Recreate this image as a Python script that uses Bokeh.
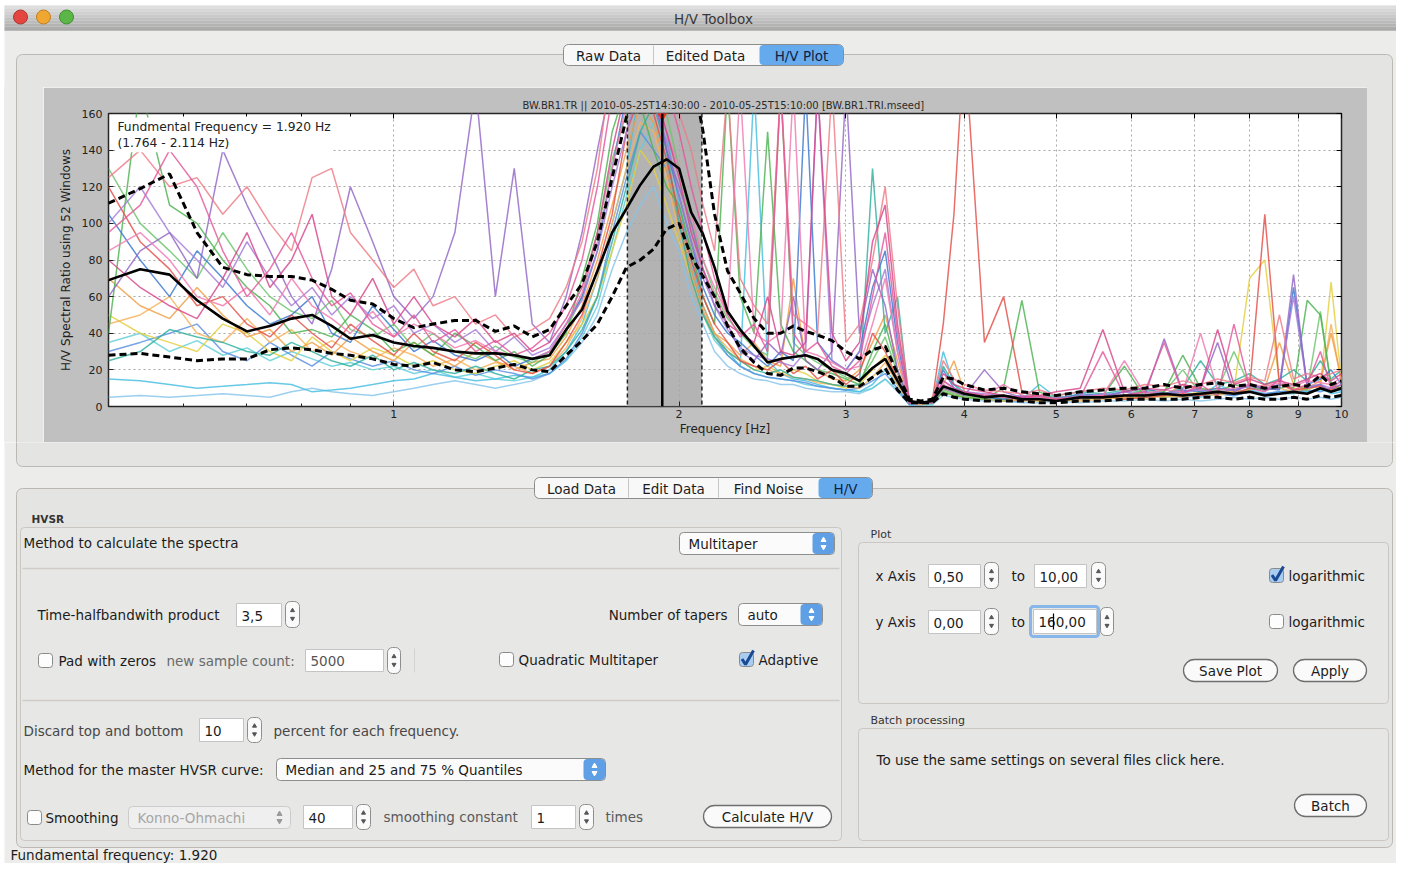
from bokeh.plotting import figure
from bokeh.layouts import column, row
from bokeh.models import Range1d, BoxAnnotation, FixedTicker, LinearAxis, LogAxis, Label, Span, Div
from bokeh.core.properties import value
from bokeh.embed import file_html
from bokeh.resources import INLINE

# ---------------- data ----------------
FREQ = [0.50, 0.54, 0.58, 0.62, 0.66, 0.70, 0.74, 0.78, 0.82, 0.86,
        0.90, 0.95, 1.00, 1.05, 1.10, 1.16, 1.22, 1.28, 1.34, 1.40,
        1.46, 1.52, 1.58, 1.64, 1.70, 1.76, 1.82, 1.88, 1.94, 2.00,
        2.06, 2.12, 2.18, 2.25, 2.32, 2.40, 2.48, 2.56, 2.64, 2.72,
        2.80, 2.90, 3.00, 3.10, 3.20, 3.30, 3.40, 3.50, 3.60, 3.70,
        3.80, 3.90, 4.00, 4.20, 4.40, 4.60, 4.80, 5.00, 5.30, 5.60,
        5.90, 6.20, 6.50, 6.80, 7.10, 7.40, 7.70, 8.00, 8.30, 8.60,
        8.90, 9.20, 9.50, 9.75, 10.0]

MEDIAN = [69, 75, 72, 58, 48, 41, 44, 48, 50, 44,
          37, 39, 35, 33, 32, 30, 29, 29, 28, 26,
          28, 42, 53, 74, 95, 108, 121, 131, 135, 130,
          106, 94, 76, 52, 42, 33, 24, 26, 27, 28,
          26, 20, 18, 14, 21, 26, 14, 3, 2, 3,
          11, 9, 7, 5, 6, 4, 4, 3, 5, 5,
          6, 6, 7, 6, 7, 8, 7, 8, 6, 7,
          8, 7, 10, 8, 10]

Q75 = [111, 119, 127, 95, 76, 72, 71, 71, 69, 64,
       58, 56, 48, 43, 45, 47, 47, 41, 44, 38,
       42, 55, 67, 90, 125, 158, 185, 200, 205, 200,
       185, 150, 105, 74, 62, 48, 40, 40, 44, 41,
       39, 36, 30, 26, 31, 33, 18, 4, 3, 4,
       16, 15, 12, 9, 10, 8, 7, 6, 8, 9,
       10, 10, 12, 10, 12, 13, 11, 12, 10, 11,
       12, 11, 17, 12, 14]

Q25 = [28, 29, 27, 25, 26, 26, 31, 32, 31, 29,
       28, 26, 23, 22, 24, 20, 19, 21, 23, 20,
       19, 28, 36, 45, 60, 76, 80, 86, 97, 100,
       82, 71, 60, 44, 32, 24, 18, 17, 21, 21,
       19, 16, 11, 11, 16, 21, 9, 2, 2, 2,
       7, 5, 4, 3, 3, 3, 2, 2, 3, 3,
       4, 4, 4, 4, 5, 5, 4, 5, 4, 4,
       5, 4, 6, 5, 6]

WIN_PINK = [95, 110, 140, 120, 85, 60, 75, 95, 70, 55,
            62, 45, 38, 50, 35, 42, 30, 36, 28, 32,
            40, 55, 80, 120, 170, 200, 210, 190, 175, 150,
            120, 95, 70, 50, 38, 45, 30, 175, 40, 30,
            35, 22, 18, 25, 60, 95, 40, 2, 2, 3,
            14, 10, 8, 6, 5, 4, 6, 4, 5, 30,
            6, 8, 35, 7, 12, 6, 45, 10, 8, 15,
            9, 12, 30, 10, 14]
WIN_PURPLE = [60, 85, 95, 70, 140, 110, 85, 60, 45, 75,
              120, 90, 60, 48, 60, 95, 175, 60, 130, 45,
              35, 60, 95, 140, 180, 160, 190, 170, 140, 120,
              100, 75, 55, 45, 30, 25, 35, 28, 60, 25,
              20, 30, 175, 40, 75, 55, 20, 2, 2, 2,
              10, 8, 6, 20, 8, 5, 4, 3, 6, 5,
              8, 6, 37, 8, 10, 35, 8, 12, 9, 10,
              72, 10, 12, 8, 10]
WIN_GREEN = [40, 175, 110, 100, 80, 65, 55, 40, 42, 38,
             50, 42, 30, 35, 28, 40, 33, 25, 30, 22,
             28, 40, 70, 100, 150, 175, 165, 140, 120, 110,
             85, 60, 45, 175, 60, 40, 150, 45, 30, 25,
             20, 18, 15, 12, 30, 45, 20, 2, 2, 2,
             8, 6, 5, 4, 10, 58, 8, 4, 5, 6,
             22, 5, 8, 28, 10, 8, 12, 10, 9, 12,
             10, 58, 50, 12, 10]
WIN_CYAN = [15, 14, 12, 10, 11, 12, 13, 12, 8, 9,
            10, 12, 14, 15, 18, 16, 14, 15, 17, 16,
            20, 30, 45, 70, 100, 130, 175, 165, 150, 110,
            80, 55, 40, 30, 22, 175, 25, 18, 15, 14,
            12, 10, 9, 8, 12, 20, 12, 2, 1, 2,
            30, 12, 6, 4, 3, 4, 12, 5, 4, 6,
            5, 7, 6, 8, 6, 12, 8, 9, 7, 8,
            9, 8, 10, 7, 8]
WIN_BLUE = [105, 80, 60, 85, 70, 55, 45, 50, 60, 40,
            35, 55, 42, 30, 36, 28, 25, 30, 22, 26,
            30, 45, 60, 85, 130, 170, 200, 180, 140, 115,
            90, 65, 50, 40, 35, 28, 22, 30, 25, 175,
            35, 25, 20, 30, 65, 85, 35, 2, 2, 3,
            20, 10, 7, 5, 4, 6, 5, 4, 7, 6,
            8, 10, 7, 9, 8, 10, 9, 12, 10, 9,
            65, 12, 15, 20, 12]
WIN_ORANGE = [70, 55, 48, 65, 50, 38, 42, 30, 35, 28,
              38, 30, 25, 35, 28, 22, 30, 25, 20, 24,
              26, 38, 55, 80, 110, 140, 165, 155, 130, 100,
              75, 55, 40, 35, 28, 35, 25, 22, 70, 25,
              20, 15, 14, 20, 35, 50, 25, 2, 2, 2,
              12, 25, 8, 5, 4, 3, 4, 5, 4, 6,
              5, 8, 6, 12, 9, 10, 8, 12, 10, 35,
              12, 10, 14, 40, 15]
WIN_RED = [120, 90, 75, 55, 60, 45, 38, 50, 40, 32,
           45, 36, 28, 40, 30, 25, 35, 28, 20, 18,
           22, 35, 50, 75, 105, 150, 170, 160, 135, 105,
           80, 60, 45, 35, 25, 22, 20, 25, 18, 22,
           15, 20, 12, 18, 40, 30, 15, 2, 2, 3,
           45, 105, 200, 35, 60, 8, 5, 4, 5, 6,
           4, 5, 6, 7, 6, 8, 7, 10, 105, 12,
           9, 10, 11, 9, 12]
WIN_YELLOW = [50, 40, 35, 30, 45, 40, 30, 25, 38, 30,
              25, 32, 28, 22, 25, 20, 18, 22, 25, 20,
              24, 35, 45, 60, 85, 110, 140, 130, 110, 90,
              70, 50, 38, 30, 25, 20, 22, 18, 20, 18,
              14, 12, 10, 12, 20, 28, 14, 2, 2, 2,
              8, 6, 5, 4, 3, 4, 3, 4, 3, 5,
              4, 6, 5, 6, 8, 7, 9, 70, 80, 12,
              10, 9, 12, 68, 14]
WIN_MAGENTA = [80, 65, 55, 48, 70, 95, 65, 80, 105, 60,
               50, 70, 45, 60, 45, 38, 48, 35, 40, 30,
               35, 48, 65, 95, 140, 175, 190, 175, 150, 125,
               95, 75, 60, 45, 40, 35, 60, 30, 28, 35,
               175, 40, 25, 35, 90, 110, 45, 3, 2, 3,
               18, 12, 10, 8, 6, 5, 6, 8, 10, 42,
               8, 10, 9, 12, 10, 42, 12, 15, 12, 14,
               12, 15, 18, 14, 18]
WIN_TEAL = [25, 30, 42, 38, 35, 30, 28, 35, 30, 25,
            22, 28, 20, 24, 20, 18, 22, 18, 15, 20,
            22, 30, 42, 60, 90, 120, 150, 165, 140, 100,
            70, 50, 38, 30, 25, 20, 18, 20, 16, 15,
            14, 12, 11, 12, 130, 40, 60, 2, 2, 2,
            22, 12, 8, 6, 5, 4, 5, 6, 8, 7,
            9, 8, 7, 10, 25, 12, 14, 18, 12, 15,
            20, 14, 25, 15, 20]
WIN_LIGHTBLUE = [5, 6, 5, 6, 7, 6, 5, 8, 10, 8,
                 7, 6, 8, 10, 12, 14, 12, 10, 12, 14,
                 18, 25, 35, 50, 75, 95, 110, 120, 100, 85,
                 60, 45, 30, 22, 18, 15, 14, 12, 12, 10,
                 9, 8, 8, 7, 10, 15, 8, 1, 1, 1,
                 6, 5, 4, 3, 3, 2, 2, 3, 2, 3,
                 3, 4, 3, 4, 3, 4, 5, 4, 5, 4,
                 5, 4, 5, 4, 5]
WIN_SALMON = [125, 140, 120, 125, 105, 120, 100, 85, 125, 130,
              95, 80, 65, 75, 55, 60, 45, 50, 38, 42,
              48, 65, 90, 130, 190, 210, 220, 200, 185, 160,
              140, 110, 85, 175, 70, 55, 45, 175, 50, 45,
              40, 175, 35, 45, 80, 120, 55, 3, 2, 3,
              25, 15, 12, 9, 8, 7, 9, 6, 8, 10,
              9, 12, 11, 14, 12, 15, 13, 16, 14, 50,
              15, 18, 16, 18, 20]
WIN_GREEN2 = [130, 100, 85, 70, 95, 75, 60, 52, 48, 58,
              42, 38, 45, 32, 40, 30, 26, 33, 27, 24,
              30, 42, 60, 95, 135, 160, 185, 175, 160, 130,
              100, 80, 62, 48, 40, 32, 28, 175, 35, 28,
              24, 20, 16, 14, 25, 38, 18, 2, 2, 2,
              9, 7, 6, 5, 4, 5, 4, 5, 6, 5,
              6, 9, 8, 20, 7, 9, 30, 11, 9, 10,
              12, 9, 52, 11, 10]
WIN_BLUE2 = [30, 35, 40, 45, 30, 25, 35, 28, 22, 30,
             26, 22, 25, 20, 18, 22, 17, 20, 18, 15,
             18, 26, 40, 60, 95, 125, 150, 140, 130, 100,
             75, 52, 38, 28, 22, 18, 16, 15, 14, 13,
             11, 10, 9, 10, 14, 18, 10, 1, 1, 2,
             8, 6, 5, 4, 3, 3, 4, 3, 4, 5,
             4, 5, 6, 5, 6, 7, 6, 8, 7, 8,
             8, 9, 8, 10, 9]
WIN_PINK2 = [85, 95, 80, 60, 55, 65, 50, 70, 55, 48,
             40, 52, 38, 45, 40, 32, 36, 30, 28, 26,
             30, 45, 62, 90, 130, 165, 180, 170, 150, 130,
             105, 80, 65, 50, 175, 40, 35, 40, 175, 30,
             28, 24, 20, 22, 45, 70, 30, 2, 2, 2,
             12, 9, 7, 6, 12, 6, 5, 4, 5, 6,
             25, 7, 9, 8, 40, 9, 10, 12, 11, 13,
             11, 14, 13, 12, 16]
WIN_PURPLE2 = [100, 120, 95, 80, 65, 90, 70, 55, 65, 50,
               60, 48, 55, 40, 45, 35, 42, 30, 38, 28,
               32, 45, 58, 85, 120, 150, 175, 165, 145, 115,
               90, 70, 55, 42, 32, 28, 26, 24, 22, 30,
               175, 25, 20, 30, 55, 75, 30, 2, 2, 2,
               14, 10, 8, 7, 6, 5, 4, 5, 5, 7,
               6, 8, 7, 8, 9, 8, 9, 11, 10, 12,
               60, 11, 12, 10, 12]
WIN_ORANGE2 = [45, 50, 60, 40, 35, 48, 35, 42, 30, 36,
               30, 26, 32, 28, 22, 26, 20, 24, 22, 18,
               22, 32, 48, 70, 100, 130, 155, 150, 125, 95,
               72, 52, 40, 32, 26, 22, 20, 18, 16, 15,
               13, 12, 11, 10, 16, 24, 12, 2, 1, 2,
               10, 7, 6, 5, 4, 4, 3, 4, 3, 4,
               5, 4, 6, 5, 7, 6, 8, 9, 12, 10,
               8, 10, 11, 45, 12]
WIN_CYAN2 = [35, 40, 30, 36, 28, 32, 25, 30, 26, 22,
             24, 20, 22, 18, 20, 16, 18, 15, 14, 16,
             18, 25, 38, 55, 85, 115, 140, 155, 135, 100,
             72, 50, 36, 28, 22, 18, 16, 15, 14, 12,
             11, 10, 9, 8, 10, 15, 9, 1, 1, 1,
             12, 8, 6, 5, 4, 4, 3, 4, 4, 5,
             4, 6, 5, 6, 5, 7, 6, 8, 6, 7,
             7, 8, 9, 8, 9]

WINDOWS = [WIN_LIGHTBLUE, WIN_CYAN2, WIN_CYAN, WIN_BLUE2, WIN_YELLOW, WIN_ORANGE2, WIN_ORANGE,
           WIN_TEAL, WIN_GREEN2, WIN_GREEN, WIN_BLUE, WIN_RED, WIN_PURPLE2, WIN_PURPLE,
           WIN_SALMON, WIN_PINK2, WIN_MAGENTA, WIN_PINK]
WIN_COLORS = ["#86c4ea", "#5fcfd8", "#45bde0", "#5a8fe0", "#e3cf3e", "#f5b25c", "#f29d45",
              "#2fb09f", "#6cc46c", "#4cb24f", "#3b78d0", "#e34f48", "#a57bd8", "#9366c6",
              "#ee7b86", "#f07ab0", "#d5468a", "#e4579a"]

F0, F0_LO, F0_HI = 1.920, 1.764, 2.114
X_TICKS = [1, 2, 3, 4, 5, 6, 7, 8, 9, 10]
X_MINOR = [0.6, 0.7, 0.8, 0.9]
Y_TICKS = [0, 20, 40, 60, 80, 100, 120, 140, 160]
TITLE = "BW.BR1.TR ||  2010-05-25T14:30:00 - 2010-05-25T15:10:00 [BW.BR1.TRI.mseed]"
Y_LABEL = "H/V Spectral Ratio using 52 Windows"
X_LABEL = "Frequency [Hz]"
F0_TEXT = "Fundmental Frequency = 1.920 Hz\n (1.764 - 2.114 Hz)"

# ---------------- styles ----------------
FONT = "DejaVu Sans"
WIN_BG = "#ececea"
PANEL_BG = "#e4e4e2"
PANEL_LINE = "#bcb8b3"
GROUP_LINE = "#cac7c2"
TXT = "#1c1c1c"
FS = "13.5px"
TB_COLORS = ["#dedede", "#d7d7d7", "#d0d0d0", "#c9c9c9", "#c2c2c2", "#bbbbbb", "#b4b4b4", "#adadad"]


def gui_fig(w, h, x0, x1, y0, y1):
    p = figure(width=w, height=h, x_range=Range1d(x0, x1), y_range=Range1d(-y1, -y0),
               output_backend="svg", toolbar_location=None, min_border=0,
               x_axis_location=None, y_axis_location=None)
    p.xgrid.visible = False
    p.ygrid.visible = False
    p.outline_line_color = None
    p.background_fill_color = "#ffffff"
    p.border_fill_color = "#ffffff"
    return p


def box(p, x0, y0, x1, y1, fill, line=None, r=0, lw=1.0):
    p.add_layout(BoxAnnotation(left=x0, right=x1, top=-y0, bottom=-y1,
                               fill_color=fill, fill_alpha=1.0 if fill else 0.0,
                               line_color=line, line_alpha=1.0 if line else 0.0,
                               line_width=lw, border_radius=int(r), level="underlay"))


def txt(p, x, y, s, size=FS, color=TXT, align="left", style="normal"):
    p.text(x=[x], y=[-y], text=[s], text_font=value(FONT), text_font_size=value(size),
           text_color=color, text_align=align, text_baseline="middle", text_font_style=style)


def hline(p, x0, x1, y, color, w=1.0):
    p.line([x0, x1], [-y, -y], line_color=color, line_width=w)


def vline(p, x, y0, y1, color, w=1.0):
    p.line([x, x], [-y0, -y1], line_color=color, line_width=w)


def stepper(p, x0, y0, x1, y1):
    box(p, x0, y0, x1, y1, "#fafafa", "#8e8e8e", r=5)
    xc, yc = (x0 + x1) / 2, (y0 + y1) / 2
    p.scatter([xc], [-(yc - 4)], marker="triangle", size=4, color="#555555")
    p.scatter([xc], [-(yc + 4)], marker="inverted_triangle", size=4, color="#555555")


def field(p, x0, y0, x1, y1, s, color=TXT):
    box(p, x0, y0, x1, y1, "#ffffff", "#c4c4c4")
    txt(p, x0 + 5, (y0 + y1) / 2 + 0.5, s, color=color)


def popup(p, x0, y0, x1, y1, s, disabled=False):
    yc = (y0 + y1) / 2
    if disabled:
        box(p, x0, y0, x1, y1, "#efefef", "#cbcbcb", r=4)
        ac = "#9a9a9a"
        tc = "#a6a6a6"
    else:
        box(p, x0, y0, x1, y1, "#fbfbfb", "#8d8d8d", r=4)
        box(p, x1 - 22, y0 + 0.5, x1 - 0.5, y1 - 0.5, "#5e9fe6", None, r=4)
        ac = "#ffffff"
        tc = TXT
    p.scatter([x1 - 11], [-(yc - 3.5)], marker="triangle", size=5, color=ac)
    p.scatter([x1 - 11], [-(yc + 3.5)], marker="inverted_triangle", size=5, color=ac)
    txt(p, x0 + 9, yc + 0.5, s, color=tc)


def checkbox(p, x0, yc, checked):
    box(p, x0, yc - 7, x0 + 14, yc + 7, "#a9cdf1" if checked else "#fdfdfd", "#8a8a8a", r=3)
    if checked:
        p.line([x0 + 2.5, x0 + 6, x0 + 14], [-(yc - 0.5), -(yc + 5), -(yc - 9)],
               line_color="#1b4a94", line_width=3)


def button(p, x0, y0, x1, y1, s):
    box(p, x0, y0, x1, y1, "#fafafa", "#6e6e6e", r=(y1 - y0) // 2, lw=1.3)
    txt(p, (x0 + x1) / 2, (y0 + y1) / 2 + 0.5, s, align="center")


def segmented(p, x0, x1, y0, y1, divs, labels, centers):
    box(p, x0, y0, x1, y1, "#f8f8f8", "#8c8c8c", r=5)
    box(p, divs[-1], y0 + 0.5, x1 - 0.5, y1 - 0.5, "#66aaee", None, r=4)
    for d in divs[:-1]:
        vline(p, d, y0 + 1, y1 - 1, "#c6c6c6")
    for i, (s, c) in enumerate(zip(labels, centers)):
        txt(p, c, (y0 + y1) / 2 + 0.5, s, align="center",
            color="#0f2244" if i == len(labels) - 1 else TXT)


# ---------------- top strip (title bar + tabs) ----------------
top = gui_fig(1396, 87, 0, 1396, 0, 87)
box(top, 4, 5, 1405, 900, WIN_BG)
for i, c in enumerate(TB_COLORS):
    box(top, 4, 5 + 3 * i, 1405, 5 + 3 * (i + 1), c)
hline(top, 4, 1405, 29.5, "#858585", 1.2)
top.circle(x=[20, 43, 66], y=[-16.5, -16.5, -16.5], radius=7,
           fill_color=["#e2463f", "#f0a732", "#5cb647"],
           line_color=["#b03530", "#c08020", "#3f8f33"])
txt(top, 713, 18, "H/V Toolbox", size="13.5px", color="#383838", align="center")
box(top, 16, 54, 1392, 466, PANEL_BG, PANEL_LINE, r=6)
segmented(top, 563, 843, 44, 65, [653, 759], ["Raw Data", "Edited Data", "H/V Plot"], [608, 705, 801])

# ---------------- side strips ----------------
left = Div(text="", width=43, height=355, margin=0,
           styles={"background": "linear-gradient(to right, #ffffff 0px, #ffffff 4px, "
                   f"{WIN_BG} 4px, {WIN_BG} 16px, {PANEL_LINE} 16px, {PANEL_LINE} 17px, "
                   f"{PANEL_BG} 17px, {PANEL_BG} 43px)"})
right = Div(text="", width=29, height=355, margin=0,
            styles={"background": f"linear-gradient(to right, {PANEL_BG} 0px, {PANEL_BG} 25px, "
                    f"{PANEL_LINE} 25px, {PANEL_LINE} 26px, {WIN_BG} 26px, {WIN_BG} 29px)"})

# ---------------- chart ----------------
chart = figure(width=1324, height=355, x_axis_type="log", x_range=Range1d(0.5, 10),
               y_range=Range1d(0, 160), output_backend="svg", toolbar_location=None,
               min_border_left=65, min_border_right=26, min_border_top=26, min_border_bottom=36,
               title=TITLE)
chart.border_fill_color = "#c0c0c0"
chart.background_fill_color = "#ffffff"
chart.outline_line_color = "#262626"
chart.outline_line_width = 1.5
chart.title.align = "center"
chart.title.text_font = FONT
chart.title.text_font_size = "10px"
chart.title.text_font_style = "normal"
chart.title.text_color = "#2a2a2a"
chart.title.standoff = 5

chart.add_layout(BoxAnnotation(left=F0_LO, right=F0_HI, fill_color="#a6a6a6", fill_alpha=0.85,
                               line_color=None, level="underlay"))

for w, c in zip(WINDOWS, WIN_COLORS):
    chart.line(FREQ, w, line_color=c, line_width=1.5, line_alpha=0.82)

chart.line(FREQ, Q75, line_color="black", line_width=3, line_dash="7 4")
chart.line(FREQ, Q25, line_color="black", line_width=3, line_dash="7 4")
chart.line(FREQ, MEDIAN, line_color="black", line_width=2.6)

for loc in (F0_LO, F0_HI):
    chart.add_layout(Span(location=loc, dimension="height", line_color="#222222",
                          line_width=1.5, line_dash="4 3"))
chart.add_layout(Span(location=F0, dimension="height", line_color="black", line_width=2.5))
chart.scatter([F0], [160], marker="inverted_triangle", size=13, color="#ee3322")

chart.add_layout(Label(x=0.5085, y=157.8, text=F0_TEXT, text_baseline="top", text_align="left",
                       text_font=FONT, text_font_size="12.3px", text_color="#222222",
                       background_fill_color="white", background_fill_alpha=1.0, padding=2))

for ax in chart.xaxis:
    ax.ticker = FixedTicker(ticks=X_TICKS, minor_ticks=X_MINOR)
    ax.major_label_overrides = {t: str(t) for t in X_TICKS}
    ax.axis_label = X_LABEL
for ax in chart.yaxis:
    ax.ticker = FixedTicker(ticks=Y_TICKS)
    ax.axis_label = Y_LABEL
for ax in list(chart.xaxis) + list(chart.yaxis):
    ax.axis_line_color = None
    ax.major_tick_in = 5
    ax.major_tick_out = 0
    ax.minor_tick_in = 3
    ax.minor_tick_out = 0
    ax.major_tick_line_color = "#222222"
    ax.minor_tick_line_color = "#222222"
    ax.major_label_text_font = FONT
    ax.major_label_text_font_size = "11px"
    ax.major_label_text_color = "#222222"
    ax.axis_label_text_font = FONT
    ax.axis_label_text_font_size = "12px"
    ax.axis_label_text_font_style = "normal"
    ax.axis_label_text_color = "#222222"
chart.xaxis.major_label_standoff = 3
chart.xaxis.axis_label_standoff = 1
chart.yaxis.major_label_standoff = 6
chart.yaxis.axis_label_standoff = 6

top_ax = LogAxis(ticker=FixedTicker(ticks=X_TICKS, minor_ticks=X_MINOR), axis_line_color=None,
                 major_tick_in=5, major_tick_out=0, minor_tick_in=3, minor_tick_out=0,
                 major_label_text_font_size="0px", major_label_text_alpha=0, major_label_standoff=0)
chart.add_layout(top_ax, "above")
right_ax = LinearAxis(ticker=FixedTicker(ticks=Y_TICKS), axis_line_color=None,
                      major_tick_in=5, major_tick_out=0, minor_tick_in=0, minor_tick_out=0,
                      major_label_text_font_size="0px", major_label_text_alpha=0, major_label_standoff=0)
chart.add_layout(right_ax, "right")

chart.xgrid.ticker = FixedTicker(ticks=X_TICKS)
chart.ygrid.ticker = FixedTicker(ticks=Y_TICKS)
chart.grid.grid_line_color = "#a8a8a8"
chart.grid.grid_line_dash = "2 3"
chart.grid.grid_line_width = 1

# ---------------- bottom (settings) ----------------
bot = gui_fig(1396, 421, 0, 1396, 442, 863)
box(bot, 4, 5, 1405, 900, WIN_BG)
box(bot, 16, 54, 1392, 466, PANEL_BG, PANEL_LINE, r=6)
box(bot, 16, 488, 1392, 847, PANEL_BG, PANEL_LINE, r=6)
segmented(bot, 534, 872, 477, 498, [628, 718, 818], ["Load Data", "Edit Data", "Find Noise", "H/V"],
          [581, 673, 768, 845])

txt(bot, 31, 518, "HVSR", size="10.5px", color="#333333", style="bold")
box(bot, 20, 527, 841, 840, "#e7e7e5", GROUP_LINE, r=4)
txt(bot, 23, 542, "Method to calculate the spectra")
popup(bot, 679, 532, 834, 554, "Multitaper")
hline(bot, 22, 839, 568, "#cfccc7", 1.5)
hline(bot, 22, 839, 700, "#cfccc7", 1.5)

txt(bot, 37, 614, "Time-halfbandwith product")
field(bot, 236, 603, 281, 626, "3,5")
stepper(bot, 285, 601, 299, 627)
txt(bot, 727, 614, "Number of tapers", align="right")
popup(bot, 738, 603, 822, 625, "auto")

checkbox(bot, 38, 660, False)
txt(bot, 58, 660, "Pad with zeros")
txt(bot, 166, 660, "new sample count:", color="#6a6a6a")
field(bot, 305, 649, 383, 671, "5000", color="#555555")
stepper(bot, 387, 647, 400, 673)
vline(bot, 414, 648, 672, "#d2d2d2")
checkbox(bot, 499, 659, False)
txt(bot, 518, 659, "Quadratic Multitaper")
checkbox(bot, 739, 659, True)
txt(bot, 758, 659, "Adaptive")

txt(bot, 23, 730, "Discard top and bottom", color="#474747")
field(bot, 199, 718, 243, 741, "10")
stepper(bot, 247, 717, 261, 742)
txt(bot, 273, 730, "percent for each frequency.", color="#474747")

txt(bot, 23, 769, "Method for the master HVSR curve:")
popup(bot, 276, 758, 605, 780, "Median and 25 and 75 % Quantiles")

checkbox(bot, 27, 817, False)
txt(bot, 45, 817, "Smoothing")
popup(bot, 128, 806, 290, 828, "Konno-Ohmachi", disabled=True)
field(bot, 303, 805, 352, 828, "40")
stepper(bot, 356, 804, 370, 829)
txt(bot, 383, 816, "smoothing constant", color="#5a5a5a")
field(bot, 531, 805, 575, 828, "1")
stepper(bot, 579, 804, 593, 829)
txt(bot, 605, 816, "times", color="#5a5a5a")
button(bot, 703, 805, 831, 827, "Calculate H/V")

txt(bot, 870, 534, "Plot", size="11px", color="#333333")
box(bot, 858, 542, 1388, 703, "#e6e6e4", GROUP_LINE, r=4)
txt(bot, 875, 575, "x Axis")
field(bot, 928, 564, 980, 587, "0,50")
stepper(bot, 984, 562, 998, 588)
txt(bot, 1011, 575, "to")
field(bot, 1034, 564, 1086, 587, "10,00")
stepper(bot, 1091, 562, 1105, 588)
checkbox(bot, 1269, 575, True)
txt(bot, 1288, 575, "logarithmic")

txt(bot, 875, 621, "y Axis")
field(bot, 928, 610, 980, 633, "0,00")
stepper(bot, 984, 608, 998, 634)
txt(bot, 1011, 621, "to")
box(bot, 1030, 606, 1098, 636, None, "#86b6ea", r=3, lw=3)
field(bot, 1033, 609, 1096, 633, "160,00")
vline(bot, 1053, 613, 629, "#000000", 1.2)
stepper(bot, 1100, 607, 1113, 635)
checkbox(bot, 1269, 621, False)
txt(bot, 1288, 621, "logarithmic")
button(bot, 1183, 659, 1277, 681, "Save Plot")
button(bot, 1293, 659, 1366, 681, "Apply")

txt(bot, 870, 720, "Batch processing", size="11px", color="#333333")
box(bot, 858, 728, 1388, 840, "#e6e6e4", GROUP_LINE, r=4)
txt(bot, 876, 759, "To use the same settings on several files click here.")
button(bot, 1294, 794, 1366, 816, "Batch")

txt(bot, 10, 854, "Fundamental frequency: 1.920", size="13.5px")

layout = column(top, row(left, chart, right, spacing=0), bot, spacing=0)
open("out.html", "w").write(file_html(layout, INLINE))
